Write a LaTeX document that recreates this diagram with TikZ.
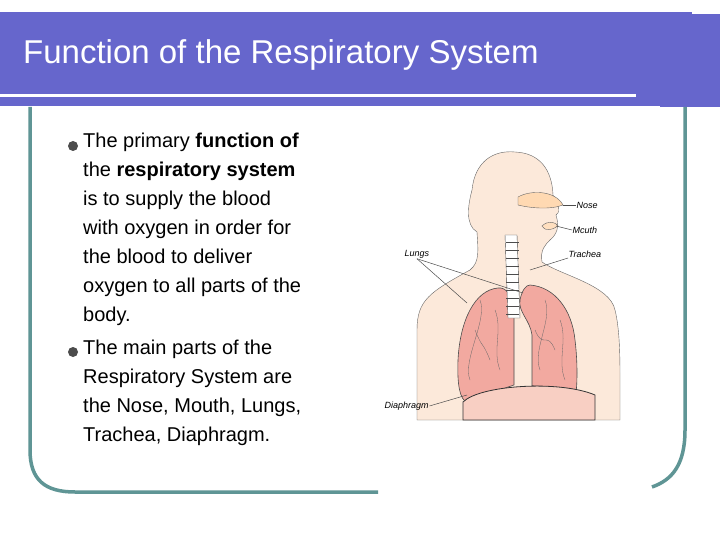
\documentclass[tikz,border=0pt]{standalone}
\usepackage{fontspec}
\setmainfont{Liberation Sans}
\begin{document}
\begin{tikzpicture}[x=1pt,y=-1pt,
  body/.style={align=left,font=\fontsize{20}{29}\selectfont,anchor=north west,inner sep=0pt},
  lab/.style={font=\itshape\fontsize{9}{10}\selectfont,inner sep=0.5pt},
  thin/.style={draw=black!70,line width=0.5pt}]
\useasboundingbox (0,0) rectangle (720,540);
\fill[white] (0,0) rectangle (720,540);
\definecolor{ban}{HTML}{6666CC}
\definecolor{tl}{HTML}{5F9595}
\fill[ban] (0,12) rectangle (692,106);
\fill[ban] (660,14) rectangle (720,107);
\fill[white] (0,94.5) rectangle (636,97.5);
\node[anchor=west,text=white,font=\fontsize{33}{36}\selectfont,inner sep=0] (title) at (23,55) {Function of the Respiratory System};
% frame
\draw[tl,line width=3.5pt] (30,107) -- (30,450) .. controls (30,480) and (45,492) .. (75,492) -- (378,492);
\draw[tl,line width=3.5pt] (685,107) -- (685,430) .. controls (685,465) and (672,480) .. (652,487);
% bullets
\fill[black!70] (73,146) circle (5);
\fill[black!70] (73,352) circle (5);
\node[body] (t1) at (83,133) {The primary \textbf{function of}\\ the \textbf{respiratory system}\\ is to supply the blood\\ with oxygen in order for\\ the blood to deliver\\ oxygen to all parts of the\\ body.};
\node[body] (t2) at (83,340) {The main parts of the\\ Respiratory System are\\ the Nose, Mouth, Lungs,\\ Trachea, Diaphragm.};
% illustration
\definecolor{skin}{HTML}{FCE9DA}
\definecolor{lung}{HTML}{F2A9A0}
\fill[skin,draw=black!60,line width=0.4pt] (417,420) -- (417,330) .. controls (417,300) and (430,292) .. (470,270)
 .. controls (480,262) and (478,250) .. (477,232) .. controls (465,225) and (468,205) .. (472,190)
 .. controls (475,160) and (495,150) .. (515,152) .. controls (540,153) and (552,170) .. (553,195)
 .. controls (558,205) and (562,210) .. (556,215) .. controls (558,222) and (560,232) .. (550,240)
 .. controls (545,245) and (540,250) .. (542,262) .. controls (560,275) and (610,285) .. (615,310)
 .. controls (620,330) and (620,360) .. (620,380) -- (620,420) -- cycle;
% nose/mouth cavity
\fill[orange!30,draw=black!60,line width=0.4pt] (518,197) .. controls (530,190) and (555,190) .. (563,205) .. controls (550,210) and (530,208) .. (518,205) -- cycle;
\fill[orange!25,draw=black!60,line width=0.4pt] (542,226) .. controls (548,220) and (556,222) .. (558,226) .. controls (552,230) and (546,232) .. (542,226) -- cycle;
% lungs
\fill[lung,draw=black!70,line width=0.6pt] (498,288) .. controls (475,290) and (460,320) .. (458,360) .. controls (457,385) and (460,400) .. (467,402) .. controls (485,395) and (505,388) .. (514,385) -- (514,310) .. controls (512,295) and (506,287) .. (498,288) -- cycle;
\fill[lung,draw=black!70,line width=0.6pt] (530,285) .. controls (555,287) and (572,310) .. (575,340) .. controls (578,365) and (577,385) .. (576,393) .. controls (560,388) and (540,386) .. (532,386) -- (532,335) .. controls (530,320) and (518,312) .. (520,300) .. controls (522,290) and (526,285) .. (530,285) -- cycle;
% veins
\foreach \va/\vb/\vc/\vd in {480/300/470/380,495/310/500/370,475/330/490/360,545/300/540/370,560/320/565/380,535/330/555/350}
  \draw[black!60,line width=0.3pt] (\va,\vb) .. controls (\va+8,\vb+20) and (\vc-8,\vd-20) .. (\vc,\vd);
% trachea
\fill[white,draw=black!70,line width=0.4pt] (505,235) -- (517,235) -- (520,318) -- (508,318) -- cycle;
\foreach \yy in {242,250,...,314} \draw[black!70,line width=0.3pt] (506,\yy) -- (519,\yy);
% diaphragm
\fill[lung!40!skin,draw=black!80,line width=0.8pt] (463,402) .. controls (480,385) and (560,380) .. (595,395) -- (595,420) -- (463,420) -- cycle;
% labels
\node[lab,anchor=west] (nose) at (576,205) {Nose};
\node[lab,anchor=west] (mouth) at (572,230) {Mcuth};
\node[lab,anchor=west] (trach) at (568,254) {Trachea};
\node[lab,anchor=west] (lungs) at (404,254) {Lungs};
\node[lab,anchor=west] (diaph) at (384,406) {Diaphragm};
\coordinate (pn) at (563,205);
\coordinate (pm) at (556,226);
\coordinate (pt) at (530,270);
\coordinate (pl1) at (467,303);
\coordinate (pl2) at (523,293);
\coordinate (pd) at (467,395);
\draw[thin] (nose.west) -- (pn);
\draw[thin] (mouth.west) -- (pm);
\draw[thin] (trach.south west) -- (pt);
\draw[thin] (lungs.south) -- (pl1);
\draw[thin] (lungs.south) -- (pl2);
\draw[thin] (diaph.east) -- (pd);
\end{tikzpicture}
\end{document}
